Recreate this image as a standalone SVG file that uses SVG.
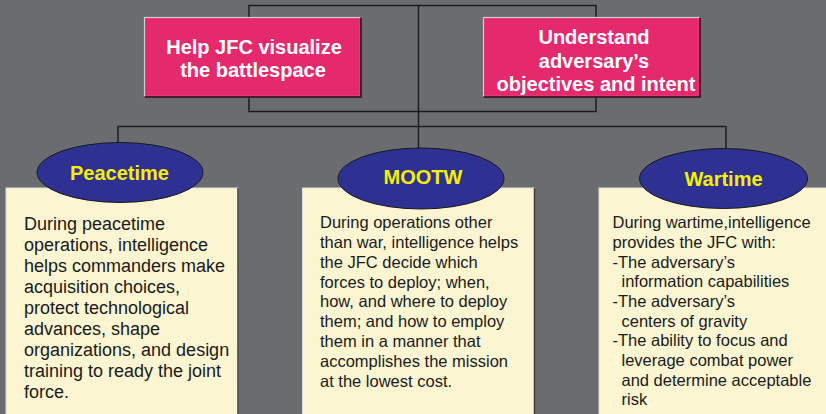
<svg xmlns="http://www.w3.org/2000/svg" width="826" height="414" viewBox="0 0 826 414">
<style>
.conn{fill:none;stroke:#1c1c1c;stroke-width:1.5}
.goal{fill:#e5296d;stroke:#cfcfcf;stroke-width:1.2}
.shadow{fill:none;stroke:#4a1a2e;stroke-width:2}
.cshadow{fill:none;stroke:#3c3c3a;stroke-width:1.5}
.gtxt{font-family:"Liberation Sans",Arial,sans-serif;font-weight:bold;font-size:20px;fill:#ffffff;text-anchor:middle}
.oval{fill:#2e3192;stroke:#1a1a1a;stroke-width:1}
.otxt{font-family:"Liberation Sans",Arial,sans-serif;font-weight:bold;font-size:20px;fill:#f5f000;text-anchor:middle}
.card{fill:#fbf5d2;stroke:#e0e0e0;stroke-width:1}
.ctxt{font-family:"Liberation Sans",Arial,sans-serif;fill:#1a1a1a}
</style>
<rect width="826" height="414" fill="#6b6c70"/>
<g id="connectors">
<rect class="conn" x="249" y="5.5" width="347" height="106"/>
<path class="conn" d="M418.5 5.5V149"/>
<path class="conn" d="M118 143V126.5H726V148"/>
</g>
<g id="goal1">
<rect class="goal" x="144.5" y="17.5" width="216" height="79"/>
<path class="shadow" d="M361 17.5V97H144.5"/>
<text class="gtxt" x="254" y="53.5">Help JFC visualize</text>
<text class="gtxt" x="253" y="77">the battlespace</text>
</g>
<g id="goal2">
<rect class="goal" x="483.5" y="17.5" width="216" height="79"/>
<path class="shadow" d="M700 17.5V97H483.5"/>
<text class="gtxt" x="594" y="44">Understand</text>
<text class="gtxt" x="594" y="67.5">adversary’s</text>
<text class="gtxt" x="596" y="91">objectives and intent</text>
</g>
<g id="card1">
<rect class="card" x="6" y="188" width="232" height="230"/>
<path class="cshadow" d="M238 188V414"/>
<text class="ctxt" font-size="18">
<tspan x="24" y="230">During peacetime</tspan>
<tspan x="24" y="251">operations, intelligence</tspan>
<tspan x="24" y="272">helps commanders make</tspan>
<tspan x="24" y="293">acquisition choices,</tspan>
<tspan x="24" y="314">protect technological</tspan>
<tspan x="24" y="335">advances, shape</tspan>
<tspan x="24" y="356">organizations, and design</tspan>
<tspan x="24" y="377">training to ready the joint</tspan>
<tspan x="24" y="398">force.</tspan>
</text>
</g>
<g id="card2">
<rect class="card" x="302.5" y="188" width="232" height="230"/>
<path class="cshadow" d="M534.5 188V414"/>
<text class="ctxt" font-size="16.5">
<tspan x="320" y="228">During operations other</tspan>
<tspan x="320" y="248">than war, intelligence helps</tspan>
<tspan x="320" y="267.5">the JFC decide which</tspan>
<tspan x="320" y="287.5">forces to deploy; when,</tspan>
<tspan x="320" y="307">how, and where to deploy</tspan>
<tspan x="320" y="327">them; and how to employ</tspan>
<tspan x="320" y="347">them in a manner that</tspan>
<tspan x="320" y="366.5">accomplishes the mission</tspan>
<tspan x="320" y="386.5">at the lowest cost.</tspan>
</text>
</g>
<g id="card3">
<rect class="card" x="599" y="188" width="240" height="230"/>
<text class="ctxt" font-size="16.5">
<tspan x="612.5" y="228">During wartime,intelligence</tspan>
<tspan x="612.5" y="248">provides the JFC with:</tspan>
<tspan x="612.5" y="267.5">-The adversary’s</tspan>
<tspan x="621.5" y="287">information capabilities</tspan>
<tspan x="612.5" y="307">-The adversary’s</tspan>
<tspan x="621.5" y="326.5">centers of gravity</tspan>
<tspan x="612.5" y="346">-The ability to focus and</tspan>
<tspan x="621.5" y="366">leverage combat power</tspan>
<tspan x="621.5" y="386">and determine acceptable</tspan>
<tspan x="621.5" y="405">risk</tspan>
</text>
</g>
<g id="peacetime">
<ellipse class="oval" cx="120" cy="172.5" rx="83" ry="30"/>
<text class="otxt" x="119.5" y="180">Peacetime</text>
</g>
<g id="mootw">
<ellipse class="oval" cx="421" cy="178.5" rx="83" ry="30.5"/>
<text class="otxt" x="423" y="183.5">MOOTW</text>
</g>
<g id="wartime">
<ellipse class="oval" cx="723.5" cy="178.5" rx="84" ry="30"/>
<text class="otxt" x="723.5" y="186">Wartime</text>
</g>
</svg>
